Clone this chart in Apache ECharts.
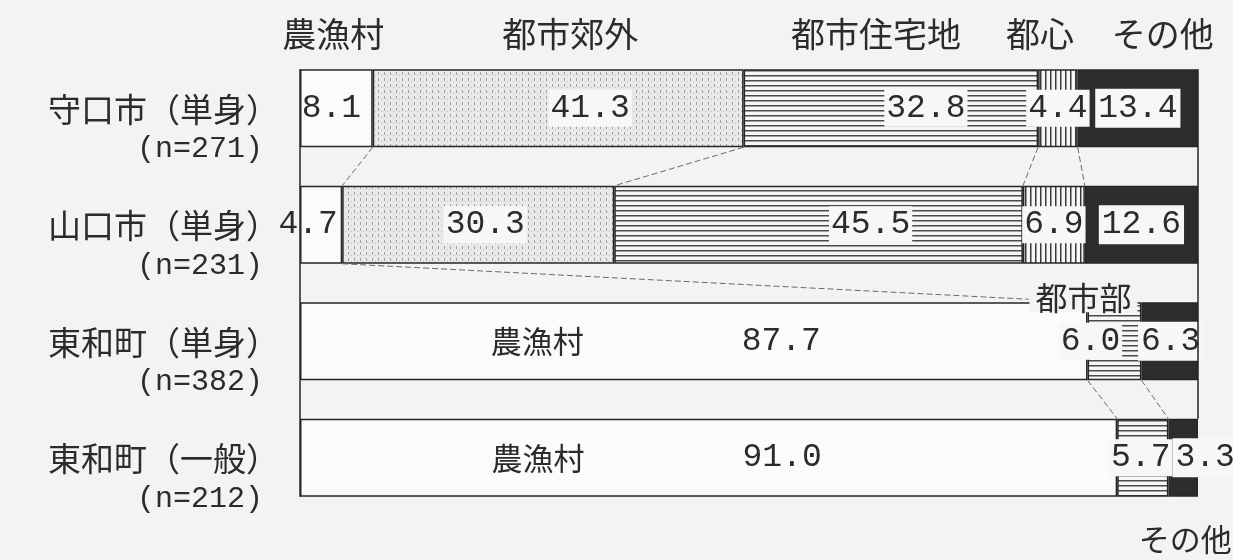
<!DOCTYPE html>
<html>
<head>
<meta charset="utf-8">
<script src="https://cdn.jsdelivr.net/npm/echarts@6/dist/echarts.min.js"></script>
<style>
  html, body { margin: 0; padding: 0; background: #f3f3f2; }
  #chart { width: 1233px; height: 560px; }
</style>
</head>
<body>
<div id="chart"></div>
<script>
// Residential area types by survey group (percent of respondents)
const places = ['守口市（単身）', '山口市（単身）', '東和町（単身）', '東和町（一般）'];
const sampleSizes = ['(n=271)', '(n=231)', '(n=382)', '(n=212)'];

const rural       = [8.1, 4.7, 87.7, 91.0];   // 農漁村
const suburb      = [41.3, 30.3, null, null]; // 都市郊外
const residential = [32.8, 45.5, null, null]; // 都市住宅地
const downtown    = [4.4, 6.9, null, null];   // 都心
const urban       = [null, null, 6.0, 5.7];   // 都市部
const other       = [13.4, 12.6, 6.3, 3.3];   // その他

const headerNames = ['農漁村', '都市郊外', '都市住宅地', '都心', 'その他'];

// label nudges (pixels) for each row
const shiftRural = [[-5, 0], [-13, 0], [-38, 0], [-52, 0]];
const shiftSuburb = [[32, 0], [7, 0], [0, 0], [0, 0]];
const shiftResidential = [[35, 0], [52, 0], [0, 0], [0, 0]];
const shiftDowntown = [[0, 0], [0, 0], [0, 0], [0, 0]];
const shiftUrban = [[0, 0], [0, 0], [-24, 0], [-2, 0]];
const shiftOther = [[0, 0], [0, 0], [1, 0], [22, 0]];

const INK = '#2b2b2b';
const NUM_FONT = '"Liberation Mono", "DejaVu Sans Mono", monospace';
const JP_FONT = '"Noto Sans CJK JP", sans-serif';
const BAR_H = 78;

function makeTile(w, h, bg, draw) {
  const c = document.createElement('canvas');
  c.width = w; c.height = h;
  const g = c.getContext('2d');
  g.fillStyle = bg; g.fillRect(0, 0, w, h);
  draw(g);
  return { image: c, repeat: 'repeat' };
}
const dotFill = makeTile(6, 6, '#e9e9e8', g => {
  g.fillStyle = '#a0a0a0';
  g.fillRect(0, 0, 1, 3);
  g.fillStyle = '#bcbcbc';
  g.fillRect(3, 3, 1, 1);
});
const hLines = makeTile(10, 5, '#f6f6f5', g => {
  g.fillStyle = '#4a4a4a';
  g.fillRect(0, 0, 10, 1.5);
});
const vLines = makeTile(5, 10, '#f6f6f5', g => {
  g.fillStyle = '#3a3a3a';
  g.fillRect(0, 0, 1.5, 10);
});

const boxLabel = { backgroundColor: '#f7f7f6', padding: [3, 2, 1, 2] };

function items(values, shifts, extra) {
  return values.map((v, i) => {
    if (v == null) return '-';
    const lab = Object.assign({ offset: shifts[i] }, extra ? extra(i) : {});
    return { value: v, label: lab };
  });
}

function barSeries(name, values, fill, shifts, extra) {
  return {
    name, type: 'bar', stack: 'total', barWidth: BAR_H,
    itemStyle: { color: fill, borderColor: '#262626', borderWidth: 1.5 },
    label: {
      show: true, position: 'inside', color: INK,
      fontFamily: NUM_FONT, fontSize: 33,
      formatter: p => p.value.toFixed(1)
    },
    data: items(values, shifts, extra),
    silent: true, animation: false
  };
}

const series = [
  barSeries('農漁村', rural, '#fbfbfa', shiftRural, i => i >= 2 ? {
    formatter: p => `{nm|農漁村}{vl|${p.value.toFixed(1)}}`,
    rich: {
      nm: { fontFamily: JP_FONT, fontSize: 31, color: INK, width: 251, align: 'left' },
      vl: { fontFamily: NUM_FONT, fontSize: 33, color: INK }
    }
  } : {}),
  barSeries('都市郊外', suburb, dotFill, shiftSuburb, () => boxLabel),
  barSeries('都市住宅地', residential, hLines, shiftResidential, () => boxLabel),
  barSeries('都心', downtown, vLines, shiftDowntown, () => boxLabel),
  barSeries('都市部', urban, hLines, shiftUrban, () => boxLabel),
  barSeries('その他', other, '#2d2d2d', shiftOther, () => ({ backgroundColor: '#f7f7f6', padding: [4, 3, 2, 3] }))
];

const option = {
  backgroundColor: '#f3f3f2',
  animation: false,
  grid: { left: 300, right: 35, top: 50, bottom: 44 },
  xAxis: { type: 'value', min: 0, max: 100, show: false },
  yAxis: {
    type: 'category', inverse: true, data: places,
    axisLine: { show: false }, axisTick: { show: false }, splitLine: { show: false },
    axisLabel: {
      margin: 21, align: 'right', padding: [42, 0, 0, 0],
      formatter: (v, i) => `{p|${v}}\n{n|${sampleSizes[i]}}`,
      rich: {
        p: { fontFamily: JP_FONT, fontSize: 33, color: INK, lineHeight: 40, align: 'right' },
        n: { fontFamily: NUM_FONT, fontSize: 30, color: INK, lineHeight: 40, align: 'right', padding: [0, 16, 0, 0] }
      }
    }
  },
  series
};

const chart = echarts.init(document.getElementById('chart'), null, { renderer: 'canvas' });
chart.setOption(option);

// frame, connector lines and category headers placed through the axis scales
const px = (v, row) => chart.convertToPixel({ gridIndex: 0 }, [v, row]);
const barTop = row => px(0, row)[1] - BAR_H / 2;
const barBottom = row => px(0, row)[1] + BAR_H / 2;

function cum(rowVals) {
  const out = []; let s = 0;
  rowVals.forEach(v => { s += v; out.push(s); });
  return out;
}
const rowSegs = [0, 1, 2, 3].map(i =>
  [rural[i], suburb[i], residential[i], downtown[i], urban[i], other[i]].filter(v => v != null));
const edges = rowSegs.map(cum);

const g = [];
const line = (x1, y1, x2, y2, style) => g.push({
  type: 'line', silent: true, z: 5,
  shape: { x1, y1, x2, y2 },
  style: Object.assign({ stroke: '#262626', lineWidth: 1.5 }, style || {})
});
const thin = { stroke: '#6a6a6a', lineWidth: 1, lineDash: [6, 3] };

// outer frame
line(px(0, 0)[0], barTop(0), px(0, 3)[0], barBottom(3));
line(px(100, 0)[0], barTop(0), px(100, 0)[0], barTop(3));

// connectors between the two city rows
for (let k = 0; k < 4; k++) {
  line(px(edges[0][k], 0)[0], barBottom(0), px(edges[1][k], 1)[0], barTop(1), thin);
}
// connectors between the two town rows
for (let k = 0; k < 2; k++) {
  line(px(edges[2][k], 2)[0], barBottom(2), px(edges[3][k], 3)[0], barTop(3), thin);
}

const text = (t, x, y, size, align) => g.push({
  type: 'text', silent: true, z: 10,
  style: {
    text: t, x, y, align: align || 'center', verticalAlign: 'middle',
    fontFamily: JP_FONT, fontSize: size, fill: INK
  }
});

// 都市部 marker with leader line from the city row
const urbanMid = px(rural[2] + urban[2] / 2, 2)[0] - 31;
line(px(edges[1][0], 1)[0], barBottom(1), urbanMid - 55, barTop(2) - 3, thin);
g.push({
  type: 'rect', silent: true, z: 9,
  shape: { x: urbanMid - 54, y: barTop(2) - 18, width: 108, height: 28 },
  style: { fill: '#f3f3f2' }
});
text('都市部', urbanMid, barTop(2) - 4, 32);

// column headers above the first row
const headerShift = [-3, 12, -15, -18, 25];
const firstRow = rowSegs[0];
let acc = 0;
firstRow.forEach((v, k) => {
  const mid = px(acc + v / 2, 0)[0];
  acc += v;
  text(headerNames[k], mid + headerShift[k], barTop(0) - 35, 34);
});

// その他 tag below the last row
const lastOther = px(100 - other[3] / 2, 3)[0];
text('その他', lastOther + 2, barBottom(3) + 42, 31);

chart.setOption({ graphic: g });
</script>
</body>
</html>
